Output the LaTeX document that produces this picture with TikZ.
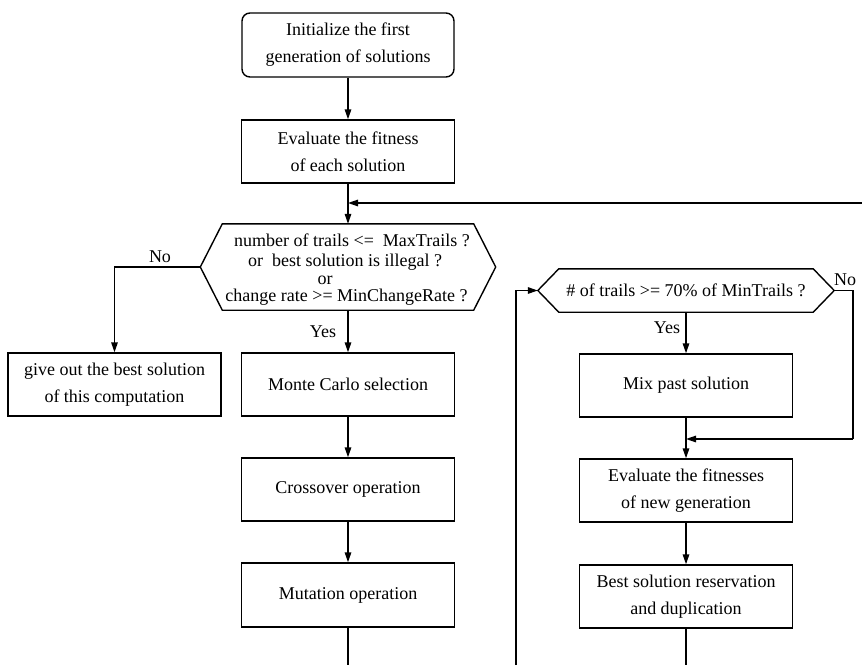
\documentclass[tikz,border=0pt]{standalone}
\usepackage{fontspec}
\setmainfont{Liberation Serif}
\usetikzlibrary{arrows.meta}
\begin{document}
\begin{tikzpicture}[x=1pt,y=-1pt,
  every node/.style={font=\fontsize{18}{27}\selectfont, text=black},
  box/.style={draw, line width=1.4pt, minimum width=213pt, minimum height=63pt, inner sep=0pt, align=center},
  rbox/.style={box, rounded corners=8pt},
  flow/.style={line width=1.4pt, -{Triangle[length=10pt,width=6.5pt]}},
  plain/.style={line width=1.4pt},
  hexline/.style={line width=1.4pt, line join=miter}]
\useasboundingbox (0,0) rectangle (862,665);
% left / main column
\node[rbox, minimum width=212pt, minimum height=64pt] (init) at (348,45) {Initialize the first\\generation of solutions};
\node[box] (eval) at (348,151.5) {Evaluate the fitness\\of each solution};
\node[minimum width=295pt, minimum height=86pt, inner sep=0pt] (d1) at (348,267) {};
\draw[hexline] (d1.west) -- ([xshift=22pt]d1.north west) -- ([xshift=-22pt]d1.north east) -- (d1.east) -- ([xshift=-22pt]d1.south east) -- ([xshift=22pt]d1.south west) -- cycle;
\node[anchor=base, inner sep=0pt] (d1a) at (352,246) {number of trails <=\ \ MaxTrails ?};
\node[anchor=base, inner sep=0pt] (d1b) at (345,266) {or\ \ best solution is illegal ?};
\node[anchor=base, inner sep=0pt] (d1c) at (325,284) {or};
\node[anchor=base, inner sep=0pt] (d1d) at (346.5,301) {change rate >= MinChangeRate ?};
\node[box] (give) at (114.5,384.5) {give out the best solution\\of this computation};
\node[box] (mc) at (348,384.5) {Monte Carlo selection};
\node[box] (cross) at (348,489.5) {Crossover operation};
\node[box, minimum height=64pt] (mut) at (348,595) {Mutation operation};
% right column
\node[minimum width=296pt, minimum height=43pt, inner sep=0pt] (d2) at (686,290.5) {\# of trails >= 70\% of MinTrails ?};
\draw[hexline] (d2.west) -- ([xshift=21pt]d2.north west) -- ([xshift=-21pt]d2.north east) -- (d2.east) -- ([xshift=-21pt]d2.south east) -- ([xshift=21pt]d2.south west) -- cycle;
\node[box] (mix) at (686,385.5) {Mix past solution};
\node[box] (evf) at (686,490.5) {Evaluate the fitnesses\\of new generation};
\node[box] (best) at (686,596.5) {Best solution reservation\\and duplication};
% labels
\node (no1) at (160,257) {No};
\node (yes1) at (323,332) {Yes};
\node (yes2) at (667,328) {Yes};
\node (no2) at (845,280) {No};
% coordinates
\coordinate (j1) at (348,203);
\coordinate (r1) at (862,203);
\coordinate (nl) at (114.5,267);
\coordinate (b1) at (348,665);
\coordinate (lb) at (516,665);
\coordinate (lt) at (516,290.5);
\coordinate (nr) at (853,290.5);
\coordinate (nrb) at (853,439);
\coordinate (j2) at (686,439);
\coordinate (b2) at (686,665);
% connectors
\draw[flow] (init) -- (eval);
\draw[flow] (eval) -- (d1.north);
\draw[flow] (r1) -- (j1);
\draw[flow] (d1.west) -- (nl) -- (give);
\draw[flow] (d1.south) -- (mc);
\draw[flow] (mc) -- (cross);
\draw[flow] (cross) -- (mut);
\draw[plain] (mut) -- (b1);
\draw[flow] (lb) -- (lt) -- (d2.west);
\draw[flow] (d2) -- (mix);
\draw[plain] (d2.east) -- (nr) -- (nrb);
\draw[flow] (nrb) -- (j2);
\draw[flow] (mix) -- (evf);
\draw[flow] (evf) -- (best);
\draw[plain] (best) -- (b2);
\end{tikzpicture}
\end{document}
